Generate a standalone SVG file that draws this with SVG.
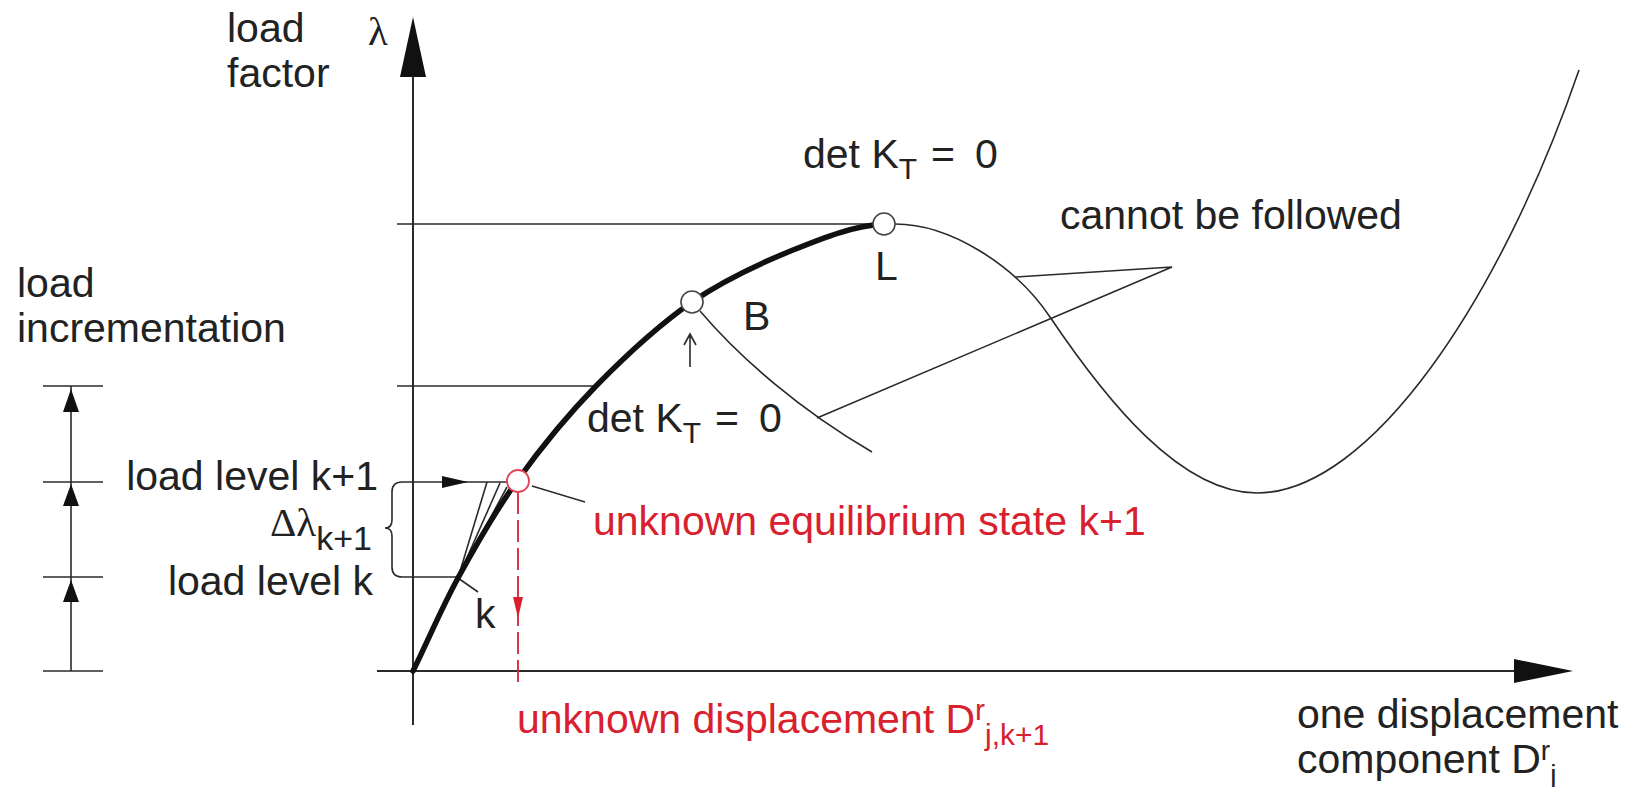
<svg xmlns="http://www.w3.org/2000/svg" width="1632" height="787" viewBox="0 0 1632 787">
<defs>
<style>
.t{font-family:"Liberation Sans",Arial,Helvetica,sans-serif;font-size:41px;fill:#222;}
.red{fill:#d8202e;}
.s{font-family:"Liberation Serif","Times New Roman",serif;}
.ln{stroke:#2a2a2a;stroke-width:1.6;fill:none;}
.ax{stroke:#2a2a2a;stroke-width:2;fill:none;}
.thick{stroke:#111;stroke-width:5.5;fill:none;stroke-linecap:round;}
.ah{fill:#111;stroke:none;}
.node{fill:#fff;stroke:#444;stroke-width:1.6;}
.rnode{fill:#fff;stroke:#e04555;stroke-width:1.8;}
.rdash{stroke:#d8202e;stroke-width:1.8;fill:none;stroke-dasharray:22 6;}
</style>
</defs>
<rect width="1632" height="787" fill="#fff"/>

<g id="axes">
  <line class="ax" x1="413" y1="77" x2="413" y2="725"/>
  <polygon class="ah" points="413,17 400,77 426,77"/>
  <line class="ax" x1="377" y1="671" x2="1516" y2="671"/>
  <polygon class="ah" points="1573,671 1514,659 1514,683"/>
  <text class="t s" x="368" y="45" font-size="40">λ</text>
  <text class="t" x="227" y="42">load</text>
  <text class="t" x="227" y="87">factor</text>
  <text class="t" x="1297" y="728">one displacement</text>
  <text class="t" x="1297" y="773">component D<tspan font-size="28" dy="-13">r</tspan><tspan font-size="28" dy="24">j</tspan></text>
</g>

<g id="load-incrementation">
  <text class="t" x="17" y="297">load</text>
  <text class="t" x="17" y="342">incrementation</text>
  <line class="ln" x1="71" y1="386" x2="71" y2="671"/>
  <line class="ln" x1="43" y1="386" x2="103" y2="386"/>
  <line class="ln" x1="43" y1="482" x2="103" y2="482"/>
  <line class="ln" x1="43" y1="577" x2="103" y2="577"/>
  <line class="ln" x1="43" y1="671" x2="103" y2="671"/>
  <polygon class="ah" points="71,389 63,412 79,412"/>
  <polygon class="ah" points="71,484 63,506 79,506"/>
  <polygon class="ah" points="71,580 63,602 79,602"/>
</g>

<g id="connectors">
  <line class="ln" x1="397" y1="224" x2="873" y2="224"/>
  <line class="ln" x1="397" y1="386" x2="598" y2="386"/>
  <path class="ln" d="M402,482 Q392,482 392,492 L392,520 Q392,528 385,528 Q392,528 392,536 L392,567 Q392,577 402,577"/>
  <line class="ln" x1="402" y1="482" x2="507" y2="482"/>
  <polygon class="ah" points="468,482 442,476 442,488"/>
  <line class="ln" x1="402" y1="577" x2="458" y2="577"/>
  <line class="ln" x1="458" y1="578" x2="487" y2="482"/>
  <line class="ln" x1="458" y1="578" x2="500" y2="483"/>
  <line class="ln" x1="458" y1="578" x2="507" y2="487"/>
  <line class="ln" x1="458" y1="578" x2="478" y2="592"/>
  <path class="thick" d="M413,671 C428,640.7 440.7,609.8 458,578 C475.3,546.2 494,513 517,481 C540,449 566.8,415.8 596,386 C625.2,356.2 659.2,324.7 692,302 C724.8,279.3 761,263 793,250 C825,237 854,225.7 884,224"/>
  <path class="ln" d="M895,224 C950,224 1015,265 1050,317 C1106,400 1180,493 1257,493 C1370,493 1500,300 1579,70"/>
  <path class="ln" d="M700,311 C740,358 800,410 872,452"/>
  <path class="ln" d="M1015,277 L1172,267 L817,418"/>
  <path class="ln" d="M690,367 L690,334 M684,345 L690,334 L696,345"/>
  <line class="rdash" x1="518" y1="492" x2="518" y2="682"/>
  <polygon points="518,618 513,597 523,597" fill="#d8202e"/>
  <line x1="532" y1="486" x2="585" y2="502" stroke="#2a2a2a" stroke-width="1.4"/>
</g>

<g id="node-L">
  <circle class="node" cx="884" cy="224" r="11"/>
  <text class="t" x="875" y="280">L</text>
  <text class="t" x="803" y="168">det K<tspan font-size="30" dy="11">T</tspan><tspan x="931" dy="-11">=</tspan><tspan x="975">0</tspan></text>
</g>

<g id="node-B">
  <circle class="node" cx="692" cy="302" r="11"/>
  <text class="t" x="743" y="330">B</text>
  <text class="t" x="587" y="432">det K<tspan font-size="30" dy="11">T</tspan><tspan x="715" dy="-11">=</tspan><tspan x="759">0</tspan></text>
</g>

<g id="node-k">
  <text class="t" x="475" y="628">k</text>
</g>

<g id="node-unknown">
  <circle class="rnode" cx="518" cy="481" r="11"/>
  <text class="t red" x="593" y="535">unknown equilibrium state k+1</text>
  <text class="t red" x="517" y="733">unknown displacement D<tspan font-size="30" dy="-13">r</tspan><tspan font-size="30" dy="25">j,k+1</tspan></text>
</g>

<g id="labels">
  <text class="t" x="378" y="490" text-anchor="end">load level k+1</text>
  <text class="t" x="372" y="536" text-anchor="end"><tspan class="s">Δλ</tspan><tspan font-size="34" dy="14">k+1</tspan></text>
  <text class="t" x="373" y="595" text-anchor="end">load level k</text>
  <text class="t" x="1060" y="229">cannot be followed</text>
</g>
</svg>
